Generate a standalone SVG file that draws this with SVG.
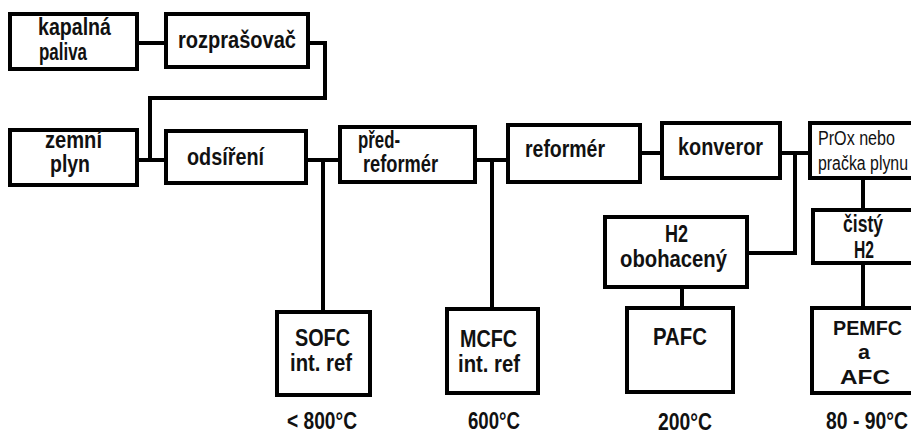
<svg xmlns="http://www.w3.org/2000/svg" width="911" height="434" viewBox="0 0 911 434">
<style>
.box{fill:#fff;stroke:#000;stroke-width:4}
.ln{fill:none;stroke:#000;stroke-width:4}
text{font-family:"Liberation Sans",Arial,sans-serif;font-weight:bold;font-size:23px;fill:#111}
.thin{font-weight:normal;font-size:20px}
.sm{font-size:21px}
</style>
<rect width="911" height="434" fill="#fff"/>
<g id="connectors">
<path class="ln" d="M137 43H166"/>
<path class="ln" d="M308 43H325V98H150V160"/>
<path class="ln" d="M137 160H166"/>
<path class="ln" d="M306 160H340"/>
<path class="ln" d="M323 160V312"/>
<path class="ln" d="M475 160H508"/>
<path class="ln" d="M492 160V309"/>
<path class="ln" d="M640 153H662"/>
<path class="ln" d="M780 153H810"/>
<path class="ln" d="M795 153V253H747"/>
<path class="ln" d="M682 287V308"/>
<path class="ln" d="M863 178V210"/>
<path class="ln" d="M863 263V308"/>
</g>
<g id="kapalna"><rect class="box" x="10" y="14" width="127" height="55"/><text x="38" y="35" textLength="73" lengthAdjust="spacingAndGlyphs">kapalná</text><text x="39" y="60" textLength="48" lengthAdjust="spacingAndGlyphs">paliva</text></g>
<g id="rozprasovac"><rect class="box" x="166" y="14" width="142" height="53"/><text x="178" y="48" textLength="118" lengthAdjust="spacingAndGlyphs">rozprašovač</text></g>
<g id="zemni"><rect class="box" x="10" y="130" width="127" height="55"/><text x="45" y="148" textLength="57" lengthAdjust="spacingAndGlyphs">zemní</text><text x="50" y="172" textLength="40" lengthAdjust="spacingAndGlyphs">plyn</text></g>
<g id="odsireni"><rect class="box" x="166" y="131" width="140" height="52"/><text x="187" y="165" textLength="77" lengthAdjust="spacingAndGlyphs">odsíření</text></g>
<g id="predreformer"><rect class="box" x="340" y="127" width="135" height="55"/><text x="358" y="148" textLength="42" lengthAdjust="spacingAndGlyphs">před-</text><text x="363" y="172" textLength="75" lengthAdjust="spacingAndGlyphs">reformér</text></g>
<g id="reformer"><rect class="box" x="508" y="125" width="132" height="57"/><text x="525" y="157" textLength="80" lengthAdjust="spacingAndGlyphs">reformér</text></g>
<g id="konvertor"><rect class="box" x="662" y="123" width="118" height="55"/><text x="678" y="155" textLength="85" lengthAdjust="spacingAndGlyphs">konveror</text></g>
<g id="prox"><rect class="box" x="810" y="123" width="110" height="55"/><text class="thin" x="818" y="145" textLength="77" lengthAdjust="spacingAndGlyphs">PrOx nebo</text><text class="thin" x="818" y="170" textLength="90" lengthAdjust="spacingAndGlyphs">pračka plynu</text></g>
<g id="h2obohaceny"><rect class="box" x="605" y="217" width="142" height="70"/><text x="665" y="242" textLength="23" lengthAdjust="spacingAndGlyphs">H2</text><text x="620" y="267" textLength="107" lengthAdjust="spacingAndGlyphs">obohacený</text></g>
<g id="cistyh2"><rect class="box" x="813" y="210" width="110" height="53"/><text x="843" y="232" textLength="40" lengthAdjust="spacingAndGlyphs">čistý</text><text x="854" y="258" textLength="20" lengthAdjust="spacingAndGlyphs">H2</text></g>
<g id="sofc"><rect class="box" x="277" y="312" width="93" height="83"/><text x="295" y="346" textLength="55" lengthAdjust="spacingAndGlyphs">SOFC</text><text x="290" y="371" textLength="62" lengthAdjust="spacingAndGlyphs">int. ref</text></g>
<g id="mcfc"><rect class="box" x="447" y="309" width="91" height="84"/><text x="460" y="347" textLength="57" lengthAdjust="spacingAndGlyphs">MCFC</text><text x="458" y="372" textLength="62" lengthAdjust="spacingAndGlyphs">int. ref</text></g>
<g id="pafc"><rect class="box" x="627" y="308" width="106" height="84"/><text x="653" y="345" textLength="54" lengthAdjust="spacingAndGlyphs">PAFC</text></g>
<g id="pemfc"><rect class="box" x="812" y="308" width="110" height="85"/><text class="sm" x="833" y="335" textLength="69" lengthAdjust="spacingAndGlyphs">PEMFC</text><text class="sm" x="858" y="359" textLength="12" lengthAdjust="spacingAndGlyphs">a</text><text class="sm" x="840" y="384" textLength="50" lengthAdjust="spacingAndGlyphs">AFC</text></g>
<g id="temps">
<text x="287" y="429" textLength="70" lengthAdjust="spacingAndGlyphs">&lt; 800°C</text>
<text x="468" y="429" textLength="52" lengthAdjust="spacingAndGlyphs">600°C</text>
<text x="658" y="430" textLength="54" lengthAdjust="spacingAndGlyphs">200°C</text>
<text x="826" y="429" textLength="82" lengthAdjust="spacingAndGlyphs">80 - 90°C</text>
</g>
</svg>
